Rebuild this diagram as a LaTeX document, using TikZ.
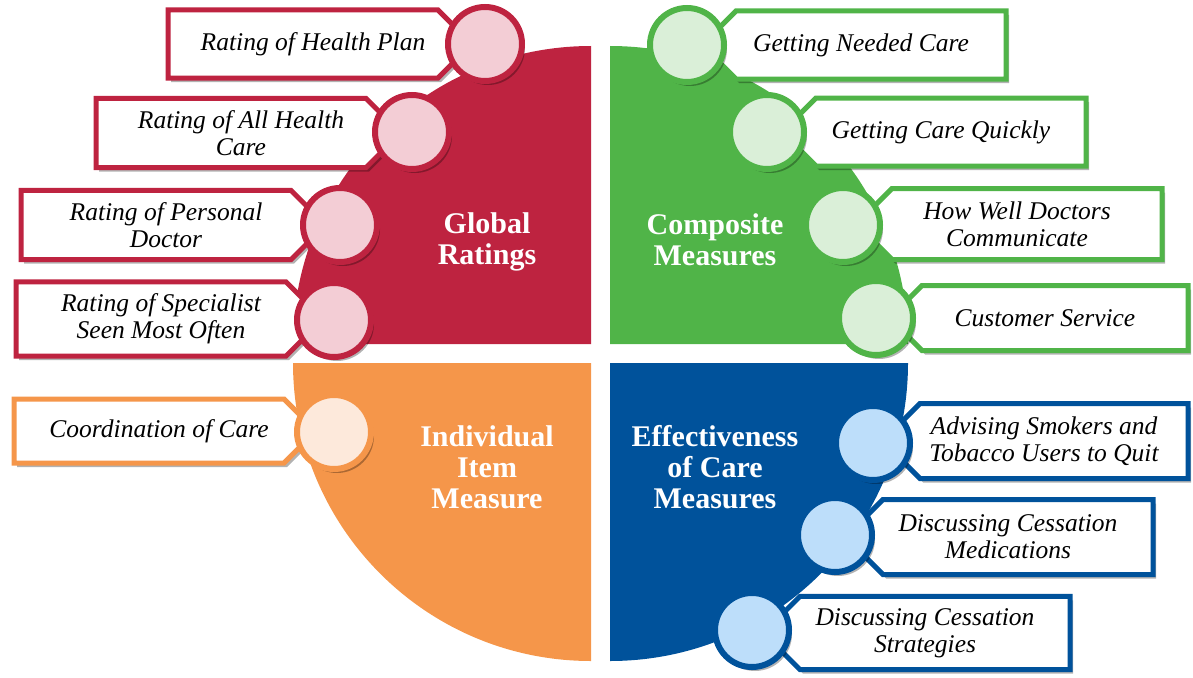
\documentclass[tikz,border=0pt]{standalone}
\usepackage{fontspec}
\setmainfont{Liberation Serif}
\usetikzlibrary{shapes.misc,shadows}

\definecolor{globalred}{RGB}{190,35,64}
\definecolor{globaltint}{RGB}{243,205,213}
\definecolor{compgreen}{RGB}{80,180,72}
\definecolor{comptint}{RGB}{218,239,216}
\definecolor{itemorange}{RGB}{245,150,74}
\definecolor{itemtint}{RGB}{253,233,219}
\definecolor{effblue}{RGB}{0,82,155}
\definecolor{efftint}{RGB}{189,222,250}

\tikzset{
  lshadow/.style={drop shadow={shadow xshift=3pt,shadow yshift=-4pt,opacity=.3,fill=black}},
  lbox/.style={draw=#1, line width=5pt, fill=white, chamfered rectangle,
    chamfered rectangle xsep=10pt, chamfered rectangle ysep=10pt,
    minimum width=290pt, minimum height=68pt, inner sep=2pt, align=center,
    font=\itshape\fontsize{25.5}{27}\selectfont, lshadow},
  lboxleft/.style={lbox=#1, chamfered rectangle corners={north east,south east}},
  lboxright/.style={lbox=#1, chamfered rectangle corners={north west,south west}},
  dot/.style 2 args={circle, draw=#1, fill=#2, line width=6pt, minimum size=74pt, lshadow},
  quadtitle/.style={text=white, align=center, font=\bfseries\fontsize{30}{31}\selectfont}
}

\begin{document}
\begin{tikzpicture}[x=1pt,y=-1pt]
  \useasboundingbox (0,0) rectangle (1193,677);
  % quadrants
  \fill[globalred] (591,344) -- (293,344) arc[start angle=180,end angle=90,radius=298pt] -- cycle;
  \fill[compgreen] (610,344) -- (610,46) arc[start angle=90,end angle=0,radius=298pt] -- cycle;
  \fill[itemorange] (591,363) -- (293,363) arc[start angle=180,end angle=270,radius=298pt] -- cycle;
  \fill[effblue] (610,363) -- (908,363) arc[start angle=0,end angle=-90,radius=298pt] -- cycle;

  \node[quadtitle] (global) at (487,242) {Global\\Ratings};
  \node[quadtitle] (composite) at (715,240) {Composite\\Measures};
  \node[quadtitle] (individual) at (487,467) {Individual\\Item\\Measure};
  \node[quadtitle] (effective) at (715,467) {Effectiveness\\of Care\\Measures};

  % global ratings
  \node[lboxleft=globalred] (plan) at (313,44) {Rating of Health Plan};
  \node[lboxleft=globalred] (allcare) at (241,133) {Rating of All Health\\Care};
  \node[lboxleft=globalred] (personal) at (166,225) {Rating of Personal\\Doctor};
  \node[lboxleft=globalred] (specialist) at (161,319) {Rating of Specialist\\Seen Most Often};
  \node[dot={globalred}{globaltint}] (plandot) at (485,44) {};
  \node[dot={globalred}{globaltint}] (allcaredot) at (412,132) {};
  \node[dot={globalred}{globaltint}] (personaldot) at (340,225) {};
  \node[dot={globalred}{globaltint}] (specialistdot) at (334,320) {};

  % individual item
  \node[lboxleft=itemorange, minimum height=64pt] (coord) at (159,431) {Coordination of Care};
  \node[dot={itemorange}{itemtint}] (coorddot) at (334,432) {};

  % composite measures
  \node[lboxright=compgreen] (needed) at (861,45) {Getting Needed Care};
  \node[lboxright=compgreen] (quickly) at (941,132) {Getting Care Quickly};
  \node[lboxright=compgreen, minimum height=71pt] (doctors) at (1017,224) {How Well Doctors\\Communicate};
  \node[lboxright=compgreen, minimum width=286pt, minimum height=65pt] (service) at (1045,318) {Customer Service};
  \node[dot={compgreen}{comptint}] (neededdot) at (687,45) {};
  \node[dot={compgreen}{comptint}] (quicklydot) at (767,132) {};
  \node[dot={compgreen}{comptint}] (doctorsdot) at (843,225) {};
  \node[dot={compgreen}{comptint}] (servicedot) at (876,318) {};

  % effectiveness of care
  \node[lboxright=effblue, minimum width=288pt, minimum height=75pt] (advising) at (1044,441) {Advising Smokers and\\Tobacco Users to Quit};
  \node[lboxright=effblue, minimum height=75pt] (medications) at (1008,537) {Discussing Cessation\\Medications};
  \node[lboxright=effblue, minimum height=72pt] (strategies) at (925,633) {Discussing Cessation\\Strategies};
  \node[dot={effblue}{efftint}] (advisingdot) at (873,443) {};
  \node[dot={effblue}{efftint}] (medicationsdot) at (835,535) {};
  \node[dot={effblue}{efftint}] (strategiesdot) at (752,630) {};
\end{tikzpicture}
\end{document}
